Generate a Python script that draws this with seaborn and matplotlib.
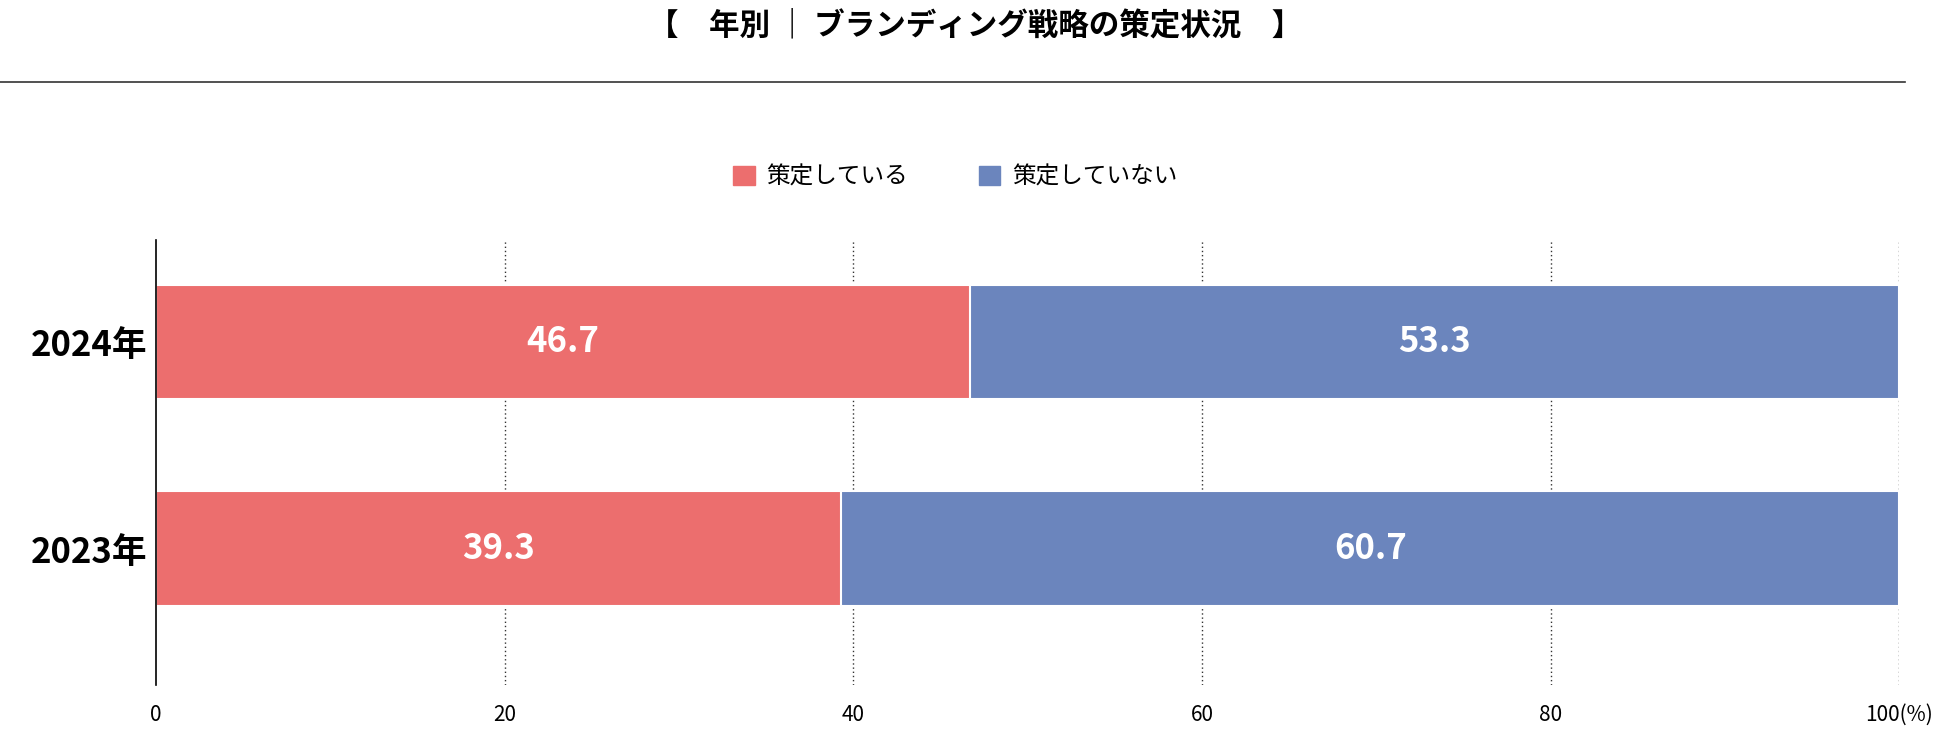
import matplotlib.pyplot as plt
import seaborn as sns
import pandas as pd

plt.rcParams['font.family'] = 'Noto Sans CJK JP'

years = ['2024年', '2023年']
have = [46.7, 39.3]
have_not = [53.3, 60.7]
ticks = [0, 20, 40, 60, 80, 100]
tick_labels = ['0', '20', '40', '60', '80', '100(%)']

red = '#EC6E6E'
blue = '#6B85BD'

df = pd.DataFrame({'year': years, 'have': have, 'total': [a + b for a, b in zip(have, have_not)]})

fig = plt.figure(figsize=(19.5, 7.29), dpi=100)
ax = fig.add_axes([0.080, 0.061, 0.894, 0.61])

sns.barplot(data=df, y='year', x='total', color=blue, width=0.555, ax=ax,
            orient='h', saturation=1, edgecolor='white', linewidth=1.5)
sns.barplot(data=df, y='year', x='have', color=red, width=0.555, ax=ax,
            orient='h', saturation=1, edgecolor='white', linewidth=1.5)

for i, (a, b) in enumerate(zip(have, have_not)):
    ax.text(a / 2, i, f'{a}', ha='center', va='center', color='white', fontsize=25, fontweight='bold')
    ax.text(a + b / 2, i, f'{b}', ha='center', va='center', color='white', fontsize=25, fontweight='bold')

ax.set_xlim(0, 100)
ax.set_ylim(1.657, -0.494)
for t in ticks[1:]:
    ax.axvline(t, color='#333333', linestyle=(0, (1, 2)), linewidth=1, zorder=0)
ax.set_xticks(ticks)
ax.set_xticklabels(tick_labels, fontsize=15)
ax.tick_params(axis='x', length=0, pad=14)
ax.tick_params(axis='y', length=0, pad=6)
for lbl in ax.get_yticklabels():
    lbl.set_fontsize(25)
    lbl.set_fontweight('bold')
ax.set_xlabel('')
ax.set_ylabel('')
for s in ['top', 'right', 'bottom']:
    ax.spines[s].set_visible(False)
ax.spines['left'].set_linewidth(1.2)

fig.text(0.5, 0.965, '【　年別 ｜ ブランディング戦略の策定状況　】', ha='center', va='center',
         fontsize=22, fontweight='bold')
fig.add_artist(plt.Line2D([0, 0.977], [0.887, 0.887], color='#333333', linewidth=1.2))

from matplotlib.patches import Patch
handles = [Patch(color=red, label='策定している'), Patch(color=blue, label='策定していない')]
fig.legend(handles=handles, loc='center', bbox_to_anchor=(0.49, 0.757), ncol=2, frameon=False,
           fontsize=17, handlelength=0.9, handleheight=0.9, columnspacing=3, handletextpad=0.5)

fig.savefig('out.png')
